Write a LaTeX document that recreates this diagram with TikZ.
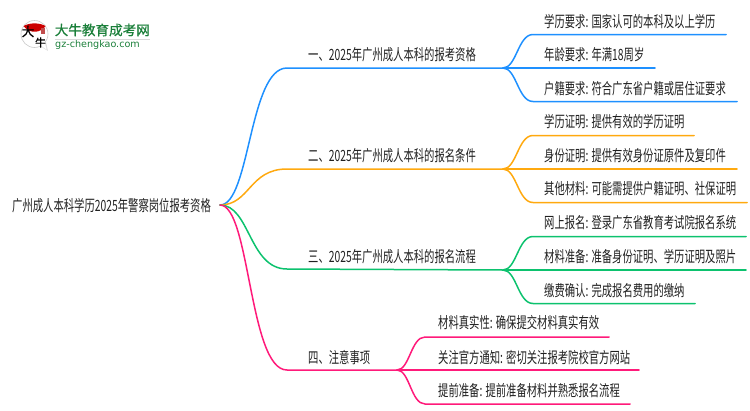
\documentclass[tikz,border=0pt]{standalone}
\usepackage{fontspec}
\setmainfont[FakeStretch=0.667]{Noto Sans CJK SC}
\newfontfamily\logofont{Noto Sans CJK SC}[FakeBold=0.6]
\newfontfamily\logolatin{DejaVu Sans}
\usetikzlibrary{calc}
\definecolor{cblue}{HTML}{1E90FF}
\definecolor{corange}{HTML}{FFA90F}
\definecolor{cgreen}{HTML}{0CC26E}
\definecolor{cpink}{HTML}{FF1A7A}
\definecolor{ctext}{HTML}{202020}
\definecolor{logogreen}{HTML}{1B7F3A}
\tikzset{
  lbl/.style={anchor=west,inner sep=0pt,text=ctext,font=\fontsize{15.5}{17}\selectfont},
  link/.style={line width=1.5pt,line cap=round},
}
\begin{document}
\begin{tikzpicture}[x=1pt,y=-1pt]
\useasboundingbox (0,0) rectangle (750,410);
% texts
\node[lbl] (root) at (12,206) {广州成人本科学历2025年警察岗位报考资格};
\node[lbl] (a) at (308,55) {一、2025年广州成人本科的报考资格};
\node[lbl] (b) at (308,156) {二、2025年广州成人本科的报名条件};
\node[lbl] (c) at (308,257) {三、2025年广州成人本科的报名流程};
\node[lbl] (d) at (308,358) {四、注意事项};
\node[lbl] (a1) at (544,22) {学历要求: 国家认可的本科及以上学历};
\node[lbl] (a2) at (544,55) {年龄要求: 年满18周岁};
\node[lbl] (a3) at (544,89) {户籍要求: 符合广东省户籍或居住证要求};
\node[lbl] (b1) at (544,122) {学历证明: 提供有效的学历证明};
\node[lbl] (b2) at (544,156) {身份证明: 提供有效身份证原件及复印件};
\node[lbl] (b3) at (544,189) {其他材料: 可能需提供户籍证明、社保证明};
\node[lbl] (c1) at (544,223) {网上报名: 登录广东省教育考试院报名系统};
\node[lbl] (c2) at (544,257) {材料准备: 准备身份证明、学历证明及照片};
\node[lbl] (c3) at (544,291) {缴费确认: 完成报名费用的缴纳};
\node[lbl] (d1) at (438,323) {材料真实性: 确保提交材料真实有效};
\node[lbl] (d2) at (438,358) {关注官方通知: 密切关注报考院校官方网站};
\node[lbl] (d3) at (438,391) {提前准备: 提前准备材料并熟悉报名流程};
% junctions
\coordinate (o) at (220,205);
\foreach \n/\x/\y in {ma/287/68,mb/287/169,mc/287/269,md/287/370,
  fa/503/68,fb/503/169,fc/503/270,fd/397/370,
  sa1/533/34.5,sa2/533/68,sa3/533/101.5,
  sb1/533/135.5,sb2/533/169,sb3/533/202.5,
  sc1/533/236.5,sc2/533/270,sc3/533/303.5,
  sd1/425/337,sd2/425/370,sd3/425/404,
  ea1/726/34.5,ea2/655/68,ea3/737/101.5,
  eb1/694/135.5,eb2/737/169,eb3/747/202.5,
  ec1/746/236.5,ec2/746/270,ec3/695/303.5,
  ed1/609/337,ed2/639/370,ed3/630/404}
  {\coordinate (\n) at (\x,\y);}
% connectors
\foreach \m/\f/\col in {ma/fa/cblue,mb/fb/corange,mc/fc/cgreen,md/fd/cpink}{
  \draw[link,\col] (o) .. controls ($(o)+(30,0)$) and ($(\m)+(-38,0)$) .. (\m) -- (\f);
}
\foreach \f/\s/\e/\col in {
  fa/sa1/ea1/cblue,fa/sa2/ea2/cblue,fa/sa3/ea3/cblue,
  fb/sb1/eb1/corange,fb/sb2/eb2/corange,fb/sb3/eb3/corange,
  fc/sc1/ec1/cgreen,fc/sc2/ec2/cgreen,fc/sc3/ec3/cgreen,
  fd/sd1/ed1/cpink,fd/sd2/ed2/cpink,fd/sd3/ed3/cpink}{
  \draw[link,\col] (\f) .. controls ($(\f)!0.45!(\f-|\s)$) and ($(\s)!0.5!(\s-|\f)$) .. (\s) -- (\e);
}
% logo
\fill[black!12] (40,46) -- (48,51) -- (46,42) -- cycle;
\fill[white,draw=black!20,line width=0.6pt] (34.5,34) circle (13.5);
\fill[white] (40,45) -- (46.5,49.5) -- (44.5,41) -- cycle;
\fill[red!80!black] (23.5,26) arc (145:35:13.5) .. controls (39,22.5) and (30,22.5) .. (23.5,26) -- cycle;
\fill[red!65!black!70] (40.5,27.5) rectangle (45,34);
\node[inner sep=0pt,font=\fontsize{12.5}{12.5}\logofont,text=black] (lg1) at (28,31.5) {大};
\node[inner sep=0pt,font=\fontsize{11}{11}\logofont,text=black] (lg2) at (40.5,42.5) {牛};
\node[anchor=west,inner sep=0pt,text=logogreen,font=\fontsize{13.6}{14}\logofont] (lg3) at (54.5,30) {大牛教育成考网};
\node[anchor=west,inner sep=0pt,text=logogreen,font=\fontsize{9.6}{10}\logolatin] (lg4) at (55,45) {gz-chengkao.com};
\draw[black!15,line width=0.8pt] (lg3.south west |- 0,39) -- (150,39);
\end{tikzpicture}
\end{document}
